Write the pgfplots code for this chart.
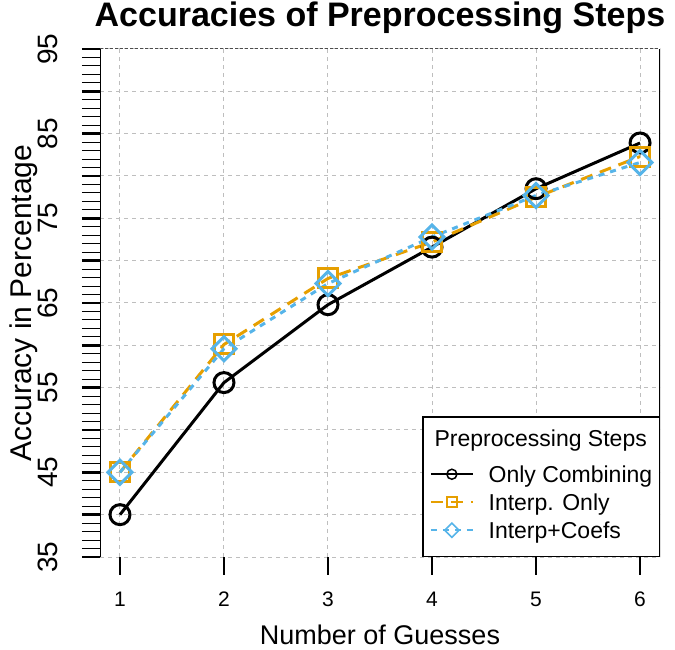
\documentclass[border=0pt]{standalone}
\usepackage{pgfplots}
\pgfplotsset{compat=1.18}
\usepackage{fontspec}
\setmainfont{Liberation Sans}
\definecolor{ocol}{HTML}{E69F00}
\definecolor{bcol}{HTML}{56B4E9}
\definecolor{gcol}{HTML}{BEBEBE}
\begin{document}
\begin{tikzpicture}
\useasboundingbox (0,0) rectangle (675bp,650bp);
\begin{axis}[
 at={(100bp,93bp)}, anchor=south west,
 scale only axis, width=560bp, height=508bp,
 xmin=0.808, xmax=6.192, ymin=35, ymax=95,
 xtick={1,...,6}, ytick={35,40,...,95},
 yticklabels={35,,45,,55,,65,,75,,85,,95},
 minor y tick num=4,
 xtick pos=bottom, ytick pos=left,
 tick align=outside,
 major tick length=18bp, minor tick length=18bp,
 major y tick style={line width=2.5bp, black},
 minor y tick style={line width=1bp, black},
 major x tick style={line width=1.5bp, black},
 grid=major,
 major grid style={gcol, line width=1bp, dash pattern=on 4bp off 4bp},
 axis line style={draw=none},
 /pgf/number format/assume math mode=true,
 xticklabel style={font=\fontsize{21bp}{25bp}\selectfont, anchor=base},
 xticklabel shift=31bp,
 yticklabel style={font=\fontsize{28bp}{32bp}\selectfont, rotate=90, anchor=base},
 yticklabel shift=24bp,
 title={Accuracies of Preprocessing Steps},
 title style={at={([yshift=17bp]rel axis cs:0.5,1)}, anchor=base, yshift=0pt, font=\bfseries\fontsize{34bp}{40bp}\selectfont},
 xlabel={Number of Guesses},
 xlabel style={at={([yshift=-87bp]rel axis cs:0.5,0)}, anchor=base, font=\fontsize{27bp}{32bp}\selectfont},
 ylabel={Accuracy in Percentage},
 ylabel style={at={([xshift=-68bp]rel axis cs:0,0.5)}, anchor=base, rotate=0, font=\fontsize{30bp}{36bp}\selectfont},
 legend image code/.code={\draw[mark repeat=2, mark phase=2, #1, line width=1.5bp, mark size=5bp, every mark/.append style={solid, line width=1.5bp}] plot coordinates {(0bp,8bp) (21bp,8bp) (42bp,8bp)};},
 legend cell align=left,
 legend style={at={(rel axis cs:1,0)}, anchor=south east, draw=black, line width=1.5bp, fill=white,
   inner xsep=7bp, inner ysep=4bp, row sep=6bp, column sep=15bp,
   font=\fontsize{23bp}{27bp}\selectfont, nodes={inner sep=0pt, text depth=}, cells={anchor=base west}},
]
\addlegendimage{empty legend}
\addlegendentry{\hspace{-54bp}Preprocessing Steps\rule[-13bp]{0pt}{38bp}}
\addplot[black, line width=3bp, mark=o, mark size=10bp, mark options={solid, line width=3bp}]
 coordinates {(1,40.0) (2,55.6) (3,64.8) (4,71.6) (5,78.5) (6,83.9)};
\addlegendentry{Only Combining\rule[-5bp]{0pt}{22bp}\hspace{5bp}}
\addplot[ocol, line width=3bp, dash pattern=on 12bp off 8bp, mark=square, mark size=9.5bp, mark options={solid, line width=3bp}]
 coordinates {(1,45.0) (2,60.1) (3,67.9) (4,72.2) (5,77.5) (6,82.3)};
\addlegendentry{Interp. Only\rule[-5bp]{0pt}{22bp}}
\addplot[bcol, line width=3bp, dash pattern=on 6bp off 6bp, mark=square, mark size=8.5bp, mark options={solid, rotate=45, line width=3bp}]
 coordinates {(1,45.0) (2,59.6) (3,67.3) (4,72.8) (5,77.7) (6,81.6)};
\addlegendentry{Interp+Coefs\rule[-14bp]{0pt}{31bp}}
\draw[black, line width=2bp] (rel axis cs:0,0) -- (rel axis cs:0,1);
\draw[black, line width=1.5bp] (rel axis cs:1,0) -- (rel axis cs:1,1);
\draw[black!70, line width=1bp, dash pattern=on 3bp off 2bp] (rel axis cs:0,0) -- (rel axis cs:1,0);
\draw[black!70, line width=1bp, dash pattern=on 3bp off 2bp] (rel axis cs:0,1) -- (rel axis cs:1,1);
\end{axis}
\end{tikzpicture}
\end{document}
